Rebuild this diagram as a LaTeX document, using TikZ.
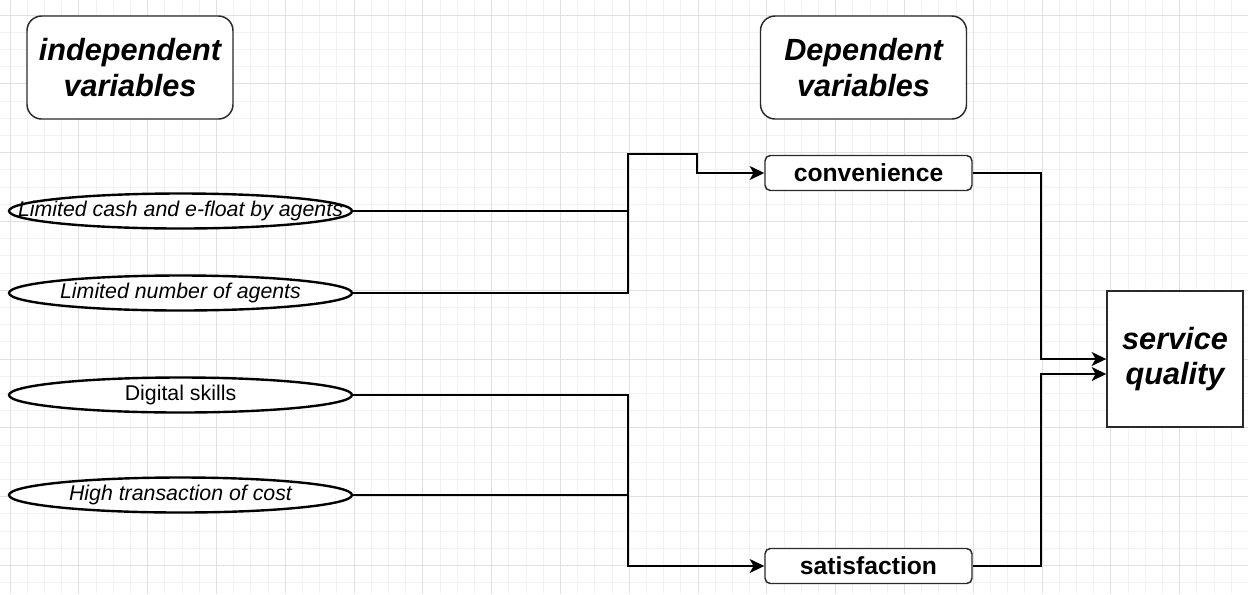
\documentclass[tikz,border=0pt]{standalone}
\usepackage{fontspec}
\setmainfont{Liberation Sans}
\usetikzlibrary{arrows.meta,shapes.geometric}
\definecolor{gridmin}{HTML}{F2F2F2}
\definecolor{gridmaj}{HTML}{E0E0E0}
\definecolor{boxline}{HTML}{2A2A2A}
\tikzset{
  hdr/.style={draw=boxline, line width=1.1pt, rounded corners=11pt, fill=white,
    minimum width=154.5pt, minimum height=77.25pt, inner sep=0pt, align=center,
    font=\fontsize{23}{26.5}\selectfont\bfseries\itshape},
  ell/.style={ellipse, draw=black, line width=1.8pt, fill=white,
    minimum width=257.25pt, minimum height=26.25pt, inner sep=0pt,
    font=\fontsize{16}{18}\selectfont},
  dv/.style={draw=boxline, line width=1.1pt, rounded corners=4pt, fill=white,
    minimum width=155.25pt, minimum height=26.25pt, inner sep=0pt,
    font=\fontsize{18.5}{20}\selectfont\bfseries},
  sqbox/.style={draw=boxline, line width=1.1pt, fill=white,
    minimum width=102pt, minimum height=102pt, inner sep=0pt, align=center,
    font=\fontsize{23}{26.5}\selectfont\bfseries\itshape},
  conn/.style={draw=black, line width=1.1pt},
  arr/.style={conn, -{Stealth[length=11pt,width=10.5pt,inset=3pt]}},
}
\begin{document}
\begin{tikzpicture}[x=0.75pt,y=-0.75pt]
\path[use as bounding box] (0,0) rectangle (1248,594);
\fill[white] (0,0) rectangle (1248,594);
\begin{scope}
\clip (0,0) rectangle (1248,594);
\foreach \k in {0,...,72} {
  \pgfmathsetmacro\xx{10+17.2*\k}
  \draw[gridmin, line width=0.6pt] (\xx,0) -- (\xx,594);
}
\foreach \k in {0,...,33} {
  \pgfmathsetmacro\yy{15+17.2*\k}
  \draw[gridmin, line width=0.6pt] (0,\yy) -- (1248,\yy);
}
\foreach \k in {0,...,18} {
  \pgfmathsetmacro\xx{10+68.8*\k}
  \draw[gridmaj, line width=0.75pt] (\xx,0) -- (\xx,594);
}
\foreach \k in {0,...,8} {
  \pgfmathsetmacro\yy{15+68.8*\k}
  \draw[gridmaj, line width=0.75pt] (0,\yy) -- (1248,\yy);
}
\end{scope}

% header boxes
\node[hdr] (indep) at (130,67.5) {independent\\variables};
\node[hdr] (dep) at (863.5,67.5) {Dependent\\variables};

% independent variables
\node[ell] (e1) at (180.5,211) {\makebox[0pt]{\itshape Limited cash and e-float by agents}};
\node[ell] (e2) at (180.5,293) {\makebox[0pt]{\itshape Limited number of agents}};
\node[ell] (e3) at (180.5,395) {\makebox[0pt]{Digital skills}};
\node[ell] (e4) at (180.5,495) {\makebox[0pt]{\itshape High transaction of cost}};

% dependent variables
\node[dv] (conv) at (868.5,173) {convenience};
\node[dv] (sat) at (868.5,566) {satisfaction};

% outcome
\node[sqbox] (sq) at (1175,359) {service\\quality};

% junction coordinates
\coordinate (j1) at (628,154);
\coordinate (j2) at (697,154);
\coordinate (j3) at (628,566);
\coordinate (k1) at (1041,359);
\coordinate (k2) at (1041,374);

% connectors
\draw[conn] (e1.east) -- (e1.east -| j1);
\draw[arr] (e2.east) -| (j1) -- (j2) |- (conv.west);
\draw[conn] (e4.east) -- (e4.east -| j3);
\draw[arr] (e3.east) -| (j3) -- (sat.west);
\draw[arr] (conv.east) -| (k1) -- (k1 -| sq.west);
\draw[arr] (sat.east) -| (k2) -- (k2 -| sq.west);
\end{tikzpicture}
\end{document}
